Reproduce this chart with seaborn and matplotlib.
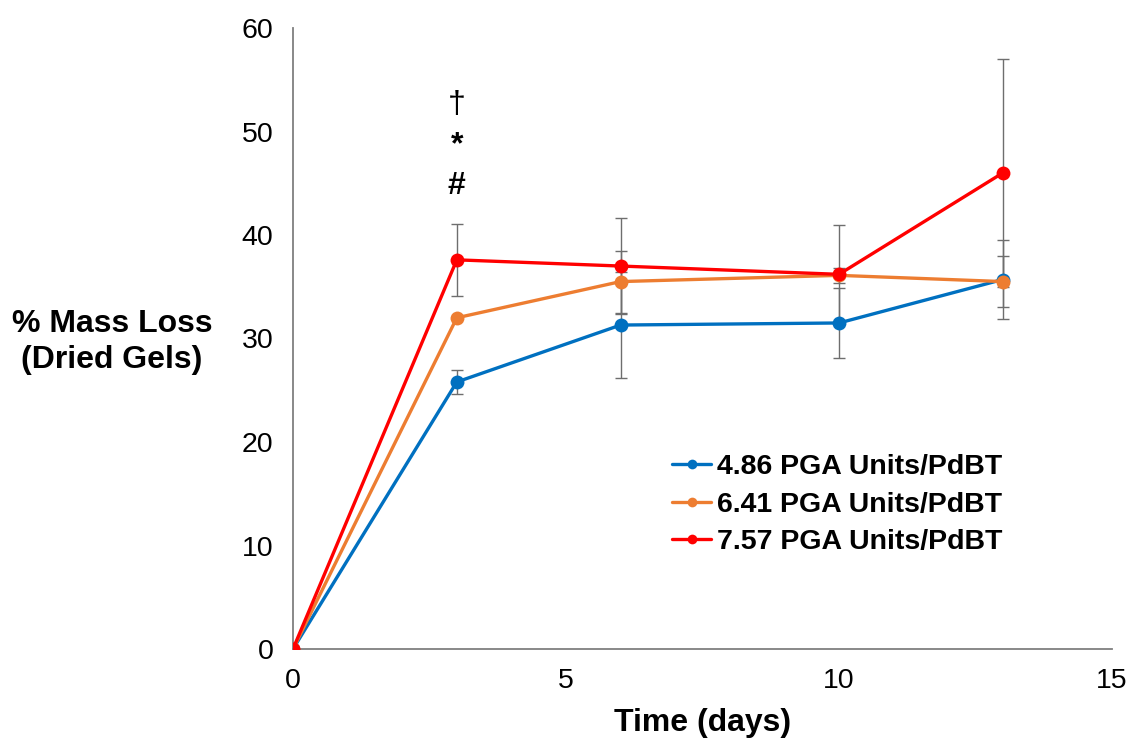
import matplotlib
matplotlib.use("Agg")
import matplotlib.pyplot as plt
import seaborn as sns
import pandas as pd
import numpy as np

days = [0, 3, 6, 10, 13]
series_names = ["4.86 PGA Units/PdBT", "6.41 PGA Units/PdBT", "7.57 PGA Units/PdBT"]
loss_486 = [0, 25.8, 31.3, 31.5, 35.7]
loss_641 = [0, 32.0, 35.5, 36.1, 35.5]
loss_757 = [0, 37.6, 37.0, 36.2, 46.0]
err_486 = [0, 1.2, 5.1, 3.4, 3.8]
err_641 = [0, 0.15, 3.0, 0.7, 2.5]
err_757 = [0, 3.5, 4.6, 4.8, 11.0]
colors = ["#0070C0", "#ED7D31", "#FF0000"]
x_ticks = [0, 5, 10, 15]
y_ticks = [0, 10, 20, 30, 40, 50, 60]
annotation_marks = ["\u2020", "*", "#"]

sns.set_theme(style="white")
plt.rcParams["font.family"] = ["Liberation Sans", "DejaVu Sans"]
plt.rcParams["text.color"] = "black"
plt.rcParams["axes.labelcolor"] = "black"
plt.rcParams["xtick.color"] = "black"
plt.rcParams["ytick.color"] = "black"

values = [loss_486, loss_641, loss_757]
errors = [err_486, err_641, err_757]
df = pd.DataFrame({
    "day": days * 3,
    "loss": loss_486 + loss_641 + loss_757,
    "series": [s for s in series_names for _ in days],
})

fig = plt.figure(figsize=(11.29, 7.42), dpi=100)
ax = fig.add_axes([293 / 1129, 1 - 649 / 742, (1112 - 293) / 1129, (649 - 28) / 742])

for v, e in zip(values, errors):
    ax.errorbar(days, v, yerr=e, fmt="none", ecolor="#6E6E6E", elinewidth=1.0,
                capsize=4.5, capthick=1.0, zorder=1)

sns.lineplot(data=df, x="day", y="loss", hue="series", palette=colors,
             marker="o", markersize=10, markeredgewidth=0, linewidth=2.4,
             ax=ax, zorder=3)

ax.set_xlim(0, 15)
ax.set_ylim(0, 60)
ax.set_xticks(x_ticks)
ax.set_yticks(y_ticks)
ax.tick_params(axis="x", direction="in", length=6, width=1, color="#7F7F7F",
               labelsize=20.5, pad=14, labelcolor="black")
ax.tick_params(axis="y", direction="out", length=6, width=1, color="#7F7F7F",
               labelsize=20.5, pad=8, labelcolor="black")
for s in ["top", "right"]:
    ax.spines[s].set_visible(False)
for s in ["left", "bottom"]:
    ax.spines[s].set_color("#7F7F7F")
    ax.spines[s].set_linewidth(1.3)

ax.set_xlabel("Time (days)", fontsize=23, fontweight="bold", labelpad=10, color="black")
ax.set_ylabel("")
fig.text(112 / 1129, 1 - 342 / 742, "% Mass Loss\n(Dried Gels)", fontsize=23,
         fontweight="bold", ha="center", va="center", linespacing=1.3, color="black")

for i, m in enumerate(annotation_marks):
    ax.text(3, 52.6 - i * 3.95, m, fontsize=23, ha="center", va="center",
            fontweight="bold" if m != "\u2020" else "normal", color="black")

leg = ax.legend(loc="upper left", bbox_to_anchor=(0.432, 0.355), frameon=False,
                handlelength=1.35, handletextpad=0.2, labelspacing=0.4,
                prop={"size": 20.5, "weight": "bold"})
for h in leg.legend_handles:
    h.set_markersize(7)
for t in leg.get_texts():
    t.set_color("black")

fig.savefig("out.png", dpi=100)
